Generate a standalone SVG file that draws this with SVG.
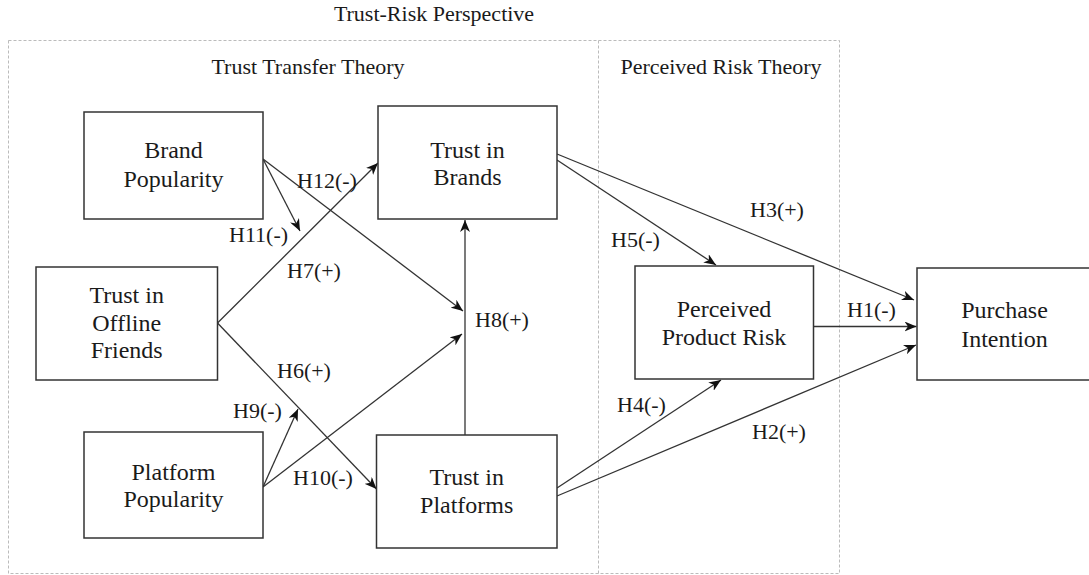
<svg xmlns="http://www.w3.org/2000/svg" width="1089" height="575" viewBox="0 0 1089 575">
<defs>
<style>
text{font-family:"Liberation Serif","Times New Roman",serif;fill:#1a1a1a}
.t{font-size:22px}
.n{font-size:24px;text-anchor:middle}
.c{text-anchor:middle}
.box{fill:#fff;stroke:#333;stroke-width:1.5}
.dash{fill:none;stroke:#bbb;stroke-width:1;stroke-dasharray:3 2}
.ln{fill:none;stroke:#333;stroke-width:1.3;marker-end:url(#ah)}
</style>
<marker id="ah" viewBox="0 0 12 10" refX="12" refY="5" markerWidth="12" markerHeight="10" markerUnits="userSpaceOnUse" orient="auto">
<path d="M0,0 L12,5 L0,10 L3.5,5 z" fill="#111"/>
</marker>
</defs>
<rect width="1089" height="575" fill="#fff"/>
<g id="frames">
<rect class="dash" x="8.5" y="40.5" width="831" height="533"/>
<line class="dash" x1="598.5" y1="40.5" x2="598.5" y2="573.5"/>
<text class="t c" x="434" y="21">Trust-Risk Perspective</text>
<text class="t c" x="308" y="74">Trust Transfer Theory</text>
<text class="t c" x="721" y="74">Perceived Risk Theory</text>
</g>
<g id="connectors">
<line class="ln" x1="263" y1="159" x2="300" y2="231"/>
<line class="ln" x1="263" y1="159" x2="463" y2="311"/>
<line class="ln" x1="217.5" y1="323" x2="378" y2="163"/>
<line class="ln" x1="217.5" y1="323" x2="376.5" y2="489"/>
<line class="ln" x1="263" y1="487" x2="298" y2="409"/>
<line class="ln" x1="263" y1="487" x2="462" y2="334"/>
<line class="ln" x1="465" y1="435" x2="465" y2="220"/>
<line class="ln" x1="557" y1="160" x2="716" y2="265"/>
<line class="ln" x1="557" y1="154" x2="914" y2="300"/>
<line class="ln" x1="557" y1="488" x2="721" y2="380"/>
<line class="ln" x1="557" y1="496" x2="916" y2="345"/>
<line class="ln" x1="813.5" y1="326.5" x2="916.5" y2="326.5"/>
<text class="t" x="229" y="242">H11(-)</text>
<text class="t" x="297" y="188">H12(-)</text>
<text class="t" x="287" y="278">H7(+)</text>
<text class="t" x="277" y="378">H6(+)</text>
<text class="t" x="233" y="418">H9(-)</text>
<text class="t" x="293" y="485">H10(-)</text>
<text class="t" x="475" y="327">H8(+)</text>
<text class="t" x="611" y="247">H5(-)</text>
<text class="t" x="750" y="217">H3(+)</text>
<text class="t" x="617" y="412">H4(-)</text>
<text class="t" x="752" y="439">H2(+)</text>
<text class="t" x="847" y="317">H1(-)</text>
</g>
<g id="brand-popularity">
<rect class="box" x="84" y="112" width="179" height="107"/>
<text class="n" x="173.5" y="158">Brand</text>
<text class="n" x="173.5" y="187">Popularity</text>
</g>
<g id="trust-in-brands">
<rect class="box" x="378" y="106" width="179" height="113"/>
<text class="n" x="467.5" y="158">Trust in</text>
<text class="n" x="467.5" y="185">Brands</text>
</g>
<g id="trust-in-offline-friends">
<rect class="box" x="36" y="267" width="181.5" height="113"/>
<text class="n" x="126.7" y="303">Trust in</text>
<text class="n" x="126.7" y="331">Offline</text>
<text class="n" x="126.7" y="358">Friends</text>
</g>
<g id="platform-popularity">
<rect class="box" x="84" y="432" width="179" height="106"/>
<text class="n" x="173.5" y="480">Platform</text>
<text class="n" x="173.5" y="507">Popularity</text>
</g>
<g id="trust-in-platforms">
<rect class="box" x="376.5" y="435" width="180.5" height="113"/>
<text class="n" x="466.7" y="485">Trust in</text>
<text class="n" x="466.7" y="513">Platforms</text>
</g>
<g id="perceived-product-risk">
<rect class="box" x="635" y="266" width="178.5" height="113"/>
<text class="n" x="724" y="317">Perceived</text>
<text class="n" x="724" y="345">Product Risk</text>
</g>
<g id="purchase-intention">
<rect class="box" x="917" y="268" width="176" height="112"/>
<text class="n" x="1004.5" y="318">Purchase</text>
<text class="n" x="1004.5" y="347">Intention</text>
</g>
</svg>
